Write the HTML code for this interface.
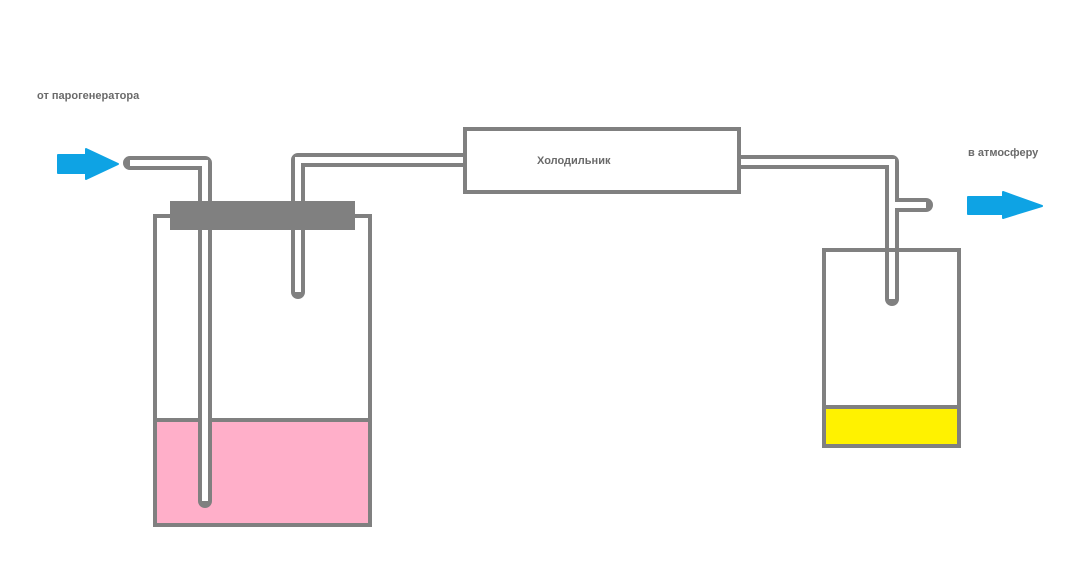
<!DOCTYPE html>
<html><head><meta charset="utf-8"><style>
html,body{margin:0;padding:0;background:#fff;width:1072px;height:575px;overflow:hidden}
text{font-family:"Liberation Sans","DejaVu Sans",sans-serif;fill:#6a6a6a;font-size:11px;font-weight:bold}
</style></head><body>
<svg width="1072" height="575" viewBox="0 0 1072 575" xmlns="http://www.w3.org/2000/svg">
<rect width="1072" height="575" fill="#fff"/>
<!-- left flask -->
<rect x="155" y="420" width="215" height="105" fill="#ffafc9"/>
<rect x="155" y="216" width="215" height="309" fill="none" stroke="#808080" stroke-width="4"/>
<line x1="155" y1="420" x2="370" y2="420" stroke="#808080" stroke-width="4"/>
<!-- tubes left -->
<polyline points="130,163 205,163 205,501" fill="none" stroke="#808080" stroke-width="14" stroke-linejoin="round" stroke-linecap="round"/>
<polyline points="130,163 205,163 205,501" fill="none" stroke="#fff" stroke-width="6" stroke-linejoin="miter"/>
<polyline points="298,292 298,160 466,160" fill="none" stroke="#808080" stroke-width="14" stroke-linejoin="round" stroke-linecap="round"/>
<polyline points="298,292 298,160 466,160" fill="none" stroke="#fff" stroke-width="6"/>
<!-- stopper -->
<rect x="170" y="201" width="185" height="29" fill="#808080"/>
<!-- right tube -->
<polyline points="735,162 892,162 892,299" fill="none" stroke="#808080" stroke-width="14" stroke-linejoin="round" stroke-linecap="round"/>
<line x1="892" y1="205" x2="926" y2="205" stroke="#808080" stroke-width="14" stroke-linecap="round"/>
<polyline points="735,162 892,162 892,299" fill="none" stroke="#fff" stroke-width="6"/>
<line x1="892" y1="205" x2="926" y2="205" stroke="#fff" stroke-width="6"/>
<!-- condenser -->
<rect x="465" y="129" width="274" height="63" fill="#fff" stroke="#808080" stroke-width="4"/>
<text x="537" y="164">Холодильник</text>
<!-- right flask -->
<rect x="824" y="407" width="135" height="39" fill="#fff200"/>
<rect x="824" y="250" width="135" height="196" fill="none" stroke="#808080" stroke-width="4"/>
<line x1="824" y1="407" x2="959" y2="407" stroke="#808080" stroke-width="4"/>
<!-- arrows -->
<polygon points="58,155 86,155 86,149 118,164 86,179 86,173 58,173" fill="#0ea3e4" stroke="#0ea3e4" stroke-width="2" stroke-linejoin="round"/>
<polygon points="968,197 1003,197 1003,192 1042,206 1003,218 1003,214 968,214" fill="#0ea3e4" stroke="#0ea3e4" stroke-width="2" stroke-linejoin="round"/>
<text x="37" y="99">от парогенератора</text>
<text x="968" y="156">в атмосферу</text>
</svg>
</body></html>
